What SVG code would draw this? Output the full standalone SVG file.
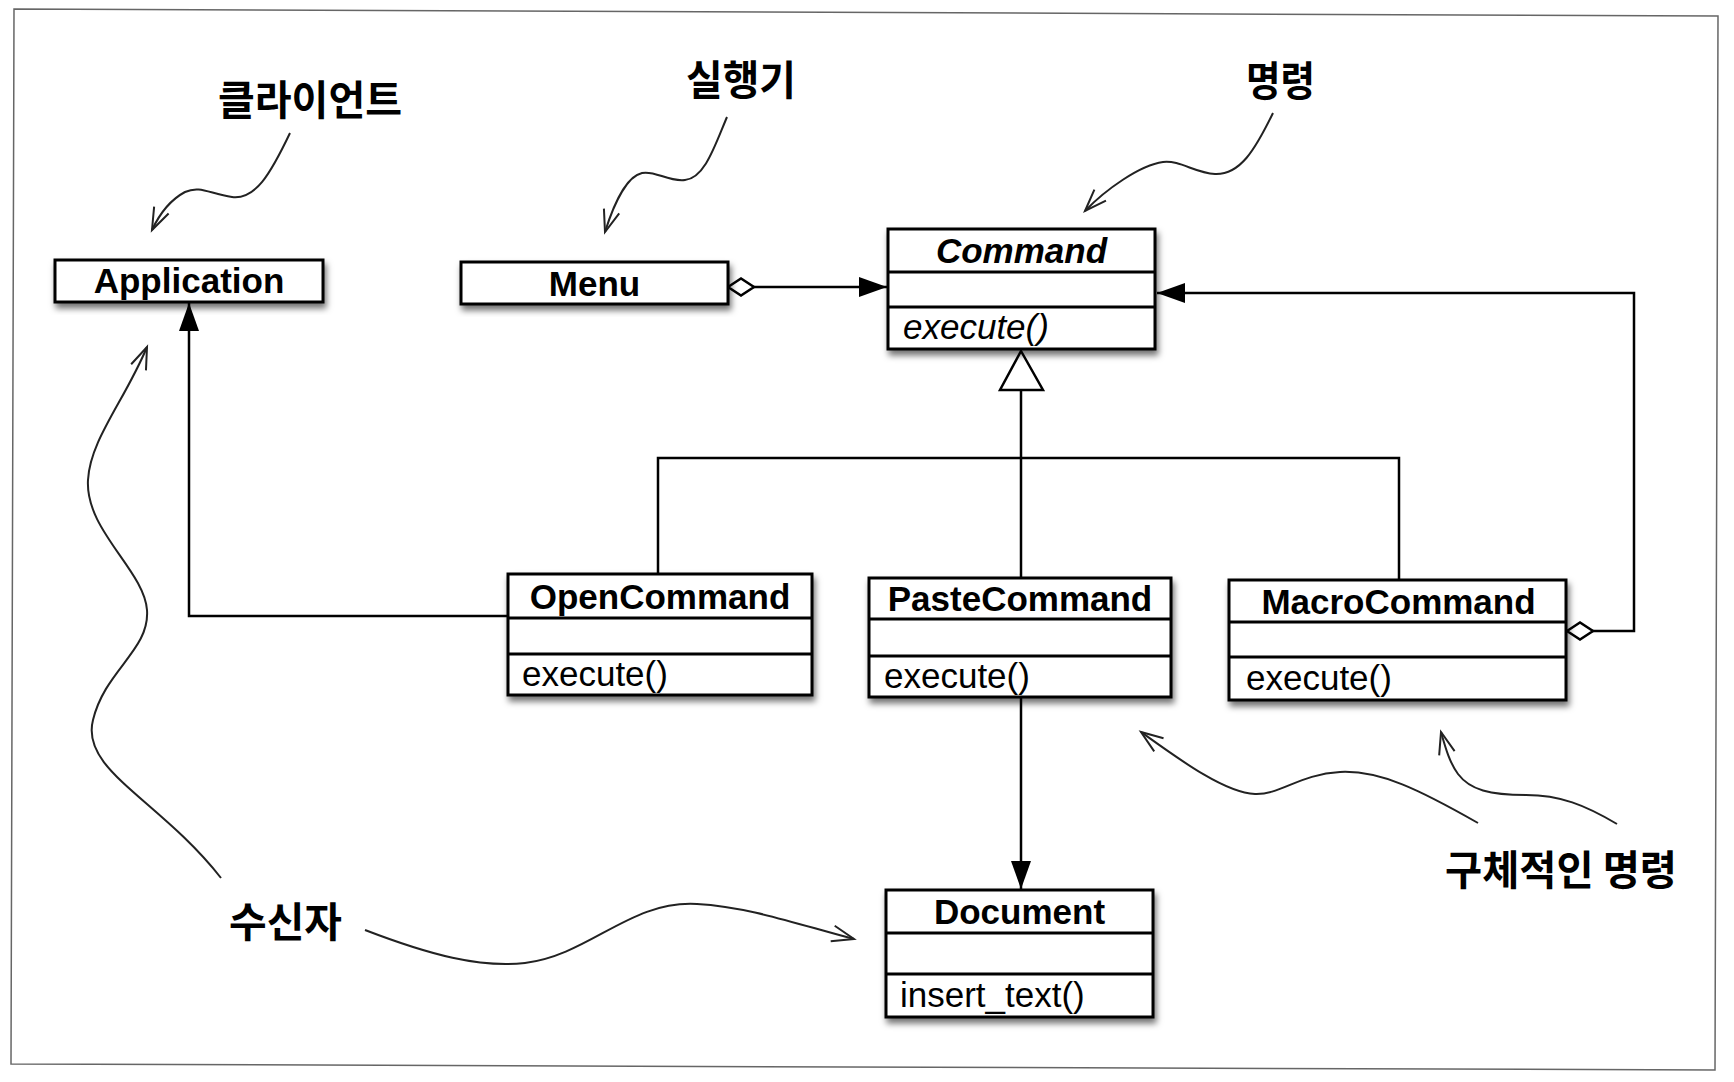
<svg xmlns="http://www.w3.org/2000/svg" width="1734" height="1082" viewBox="0 0 1734 1082">
<defs>
<filter id="sh" x="-10%" y="-20%" width="120%" height="150%">
<feDropShadow dx="2" dy="5" stdDeviation="3" flood-color="#000" flood-opacity="0.55"/>
</filter>
<marker id="fa" markerUnits="userSpaceOnUse" markerWidth="30" markerHeight="22" refX="28" refY="10" orient="auto" overflow="visible">
<path d="M0,0 L28,10 L0,20 z" fill="#000"/>
</marker>
<marker id="dm" markerUnits="userSpaceOnUse" markerWidth="28" markerHeight="20" refX="0" refY="8.5" orient="auto" overflow="visible">
<path d="M0,8.5 L13,0 L26,8.5 L13,17 z" fill="#fff" stroke="#000" stroke-width="2.5"/>
</marker>
<marker id="va" markerUnits="userSpaceOnUse" markerWidth="24" markerHeight="18" refX="22" refY="8" orient="auto" overflow="visible">
<path d="M0,0 L22,8 L0,16" fill="none" stroke="#222" stroke-width="2"/>
</marker>
</defs>
<style>
.box{fill:#fff;stroke:#000;stroke-width:3;filter:url(#sh)}
.dv{stroke:#000;stroke-width:3}
.nm{font-family:"Liberation Sans",Arial,sans-serif;font-weight:bold;font-size:35px;text-anchor:middle;fill:#000}
.op{font-family:"Liberation Sans",Arial,sans-serif;font-size:35px;fill:#000}
.it{font-style:italic}
.ko{font-family:"Noto Sans CJK KR",sans-serif;font-weight:700;font-size:41px;fill:#000}
.ln{fill:none;stroke:#000;stroke-width:2.5}
.sq{fill:none;stroke:#222;stroke-width:2}
</style>
<polygon points="14,9 1718,16 1715,1070 11,1064" fill="#fff" stroke="#666" stroke-width="1.5"/>

<g id="labels">
<text class="ko" x="218" y="115" textLength="184" lengthAdjust="spacingAndGlyphs">클라이언트</text>
<text class="ko" x="686" y="95" font-size="40" textLength="110" lengthAdjust="spacingAndGlyphs">실행기</text>
<text class="ko" x="1246" y="96" font-size="40" textLength="69" lengthAdjust="spacingAndGlyphs">명령</text>
<text class="ko" x="229" y="937" textLength="113" lengthAdjust="spacingAndGlyphs">수신자</text>
<text class="ko" x="1445" y="885" textLength="232" lengthAdjust="spacingAndGlyphs">구체적인 명령</text>
</g>

<g id="connectors">
<path class="ln" d="M728,287 L887,287" marker-start="url(#dm)" marker-end="url(#fa)"/>
<path class="ln" d="M1567,631 H1634 V293 H1157" marker-start="url(#dm)" marker-end="url(#fa)"/>
<path class="ln" d="M1021,390 V578"/>
<path class="ln" d="M658,574 V458 H1399 V580"/>
<polygon points="1021,351 1043,390 1000,390" fill="#fff" stroke="#000" stroke-width="2.5"/>
<path class="ln" d="M508,616 H189 V303" marker-end="url(#fa)"/>
<path class="ln" d="M1021,697 V889" marker-end="url(#fa)"/>
<path class="sq" d="M290,133 C270,175 255,200 232,197 C210,194 200,185 185,192 C170,200 160,213 152,230" marker-end="url(#va)"/>
<path class="sq" d="M727,117 C715,145 705,178 685,180 C668,182 655,170 642,173 C628,176 615,200 605,232" marker-end="url(#va)"/>
<path class="sq" d="M1273,113 C1255,150 1240,175 1215,174 C1195,173 1180,160 1163,162 C1140,165 1105,190 1085,211" marker-end="url(#va)"/>
<path class="sq" d="M221,878 C160,800 80,770 93,720 C105,670 150,650 147,610 C144,570 85,530 88,480 C90,440 125,400 147,347" marker-end="url(#va)"/>
<path class="sq" d="M365,930 C430,955 480,968 525,963 C590,955 630,900 697,904 C750,907 800,925 854,939" marker-end="url(#va)"/>
<path class="sq" d="M1478,823 C1420,790 1380,770 1340,772 C1300,774 1280,795 1255,794 C1225,793 1180,760 1141,732" marker-end="url(#va)"/>
<path class="sq" d="M1617,824 C1585,805 1560,795 1526,795 C1490,795 1470,790 1458,774 C1450,763 1446,750 1441,732" marker-end="url(#va)"/>
</g>

<g id="application">
<rect class="box" x="55" y="260" width="268" height="42"/>
<text class="nm" x="189" y="293">Application</text>
</g>

<g id="menu">
<rect class="box" x="461" y="262" width="267" height="42"/>
<text class="nm" x="594.5" y="295.5">Menu</text>
</g>

<g id="command">
<rect class="box" x="888" y="229" width="267" height="120"/>
<line class="dv" x1="888" y1="272" x2="1155" y2="272"/>
<line class="dv" x1="888" y1="307" x2="1155" y2="307"/>
<text class="nm it" x="1021.5" y="263">Command</text>
<text class="op it" x="903" y="339">execute()</text>
</g>

<g id="opencommand">
<rect class="box" x="508" y="574" width="304" height="121"/>
<line class="dv" x1="508" y1="618" x2="812" y2="618"/>
<line class="dv" x1="508" y1="654" x2="812" y2="654"/>
<text class="nm" x="660" y="608.5">OpenCommand</text>
<text class="op" x="522" y="686">execute()</text>
</g>

<g id="pastecommand">
<rect class="box" x="869" y="578" width="302" height="119"/>
<line class="dv" x1="869" y1="619" x2="1171" y2="619"/>
<line class="dv" x1="869" y1="656" x2="1171" y2="656"/>
<text class="nm" x="1020" y="611">PasteCommand</text>
<text class="op" x="884" y="688">execute()</text>
</g>

<g id="macrocommand">
<rect class="box" x="1229" y="580" width="337" height="120"/>
<line class="dv" x1="1229" y1="622" x2="1566" y2="622"/>
<line class="dv" x1="1229" y1="657" x2="1566" y2="657"/>
<text class="nm" x="1398.5" y="613.5">MacroCommand</text>
<text class="op" x="1246" y="690">execute()</text>
</g>

<g id="document">
<rect class="box" x="886" y="890" width="267" height="127"/>
<line class="dv" x1="886" y1="933" x2="1153" y2="933"/>
<line class="dv" x1="886" y1="974" x2="1153" y2="974"/>
<text class="nm" x="1019.5" y="924">Document</text>
<text class="op" x="900" y="1007">insert_text()</text>
</g>
</svg>
